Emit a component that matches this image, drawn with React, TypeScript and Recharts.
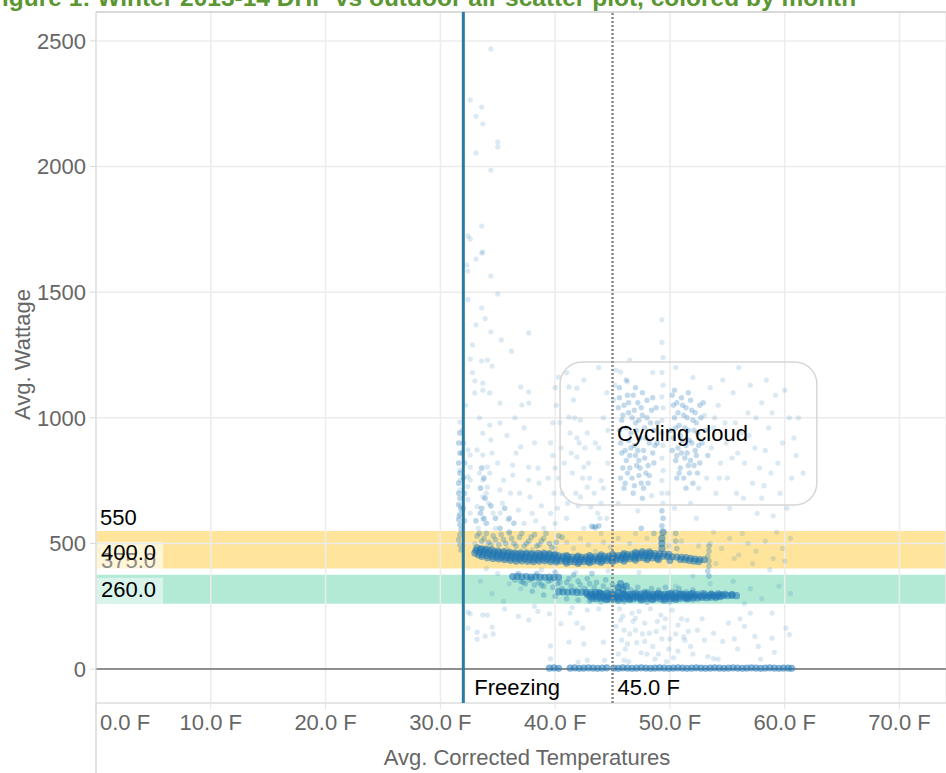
import {
  CartesianGrid,
  ReferenceArea,
  ReferenceLine,
  Scatter,
  ScatterChart,
  XAxis,
  YAxis,
} from "recharts"

// Outdoor temperature (F) vs DHP wattage, one reading per point: [temp, watts]

const TEMP_TICKS = [0, 10, 20, 30, 40, 50, 60, 70]
const WATT_TICKS = [0, 500, 1000, 1500, 2000, 2500]
const TEMP_DOMAIN = [0, 74.05]
const WATT_DOMAIN = [-135, 2615]

const FREEZING_F = 32
const MARK_F = 45

// reference bands
const UPPER_BAND = [400, 550]
const LOWER_BAND = [260, 375]

// annotated region around the cycling readings
const CLOUD_TEMP = [40.43, 62.8]
const CLOUD_WATT = [653, 1222]

const highReadings = [
  [34.4, 2468], [32.6, 2265], [33.6, 2237], [33.1, 2200], [33.7, 2170], [35.0, 2098],
  [35.0, 2078], [33.1, 2054], [34.4, 1986], [33.6, 1763], [32.4, 1724], [32.6, 1712],
  [33.7, 1660], [33.6, 1655], [33.1, 1632], [32.3, 1608], [32.4, 1584], [34.4, 1564],
  [35.0, 1493], [32.4, 1470], [33.6, 1437], [33.9, 1395], [33.1, 1370], [34.4, 1342],
  [37.7, 1338], [35.3, 1310], [32.8, 1290], [36.2, 1265], [32.6, 1234], [33.6, 1226],
  [34.1, 1230], [34.5, 1206],
]

const freezingColumn = [
  [31.7, 983], [31.9, 951], [32.4, 872], [32.6, 804], [31.7, 792], [31.7, 752],
  [31.7, 713], [31.7, 647], [31.6, 607], [32.4, 766], [32.6, 752], [33.0, 1099],
  [33.7, 1110], [33.7, 1138], [34.3, 1099], [35.2, 1059], [37.0, 1123], [37.7, 1103],
  [37.7, 1059], [37.1, 1051], [35.2, 979], [34.3, 971], [33.7, 939], [33.2, 872],
  [33.7, 852], [34.1, 804], [34.3, 780], [33.7, 752], [34.1, 724], [33.7, 685],
  [34.2, 660], [34.6, 621], [33.7, 597], [35.2, 713], [35.5, 752], [36.3, 812],
  [36.3, 772], [37.0, 884], [37.7, 804], [37.7, 752], [37.8, 685], [36.8, 633],
  [35.9, 593], [32.6, 852], [32.4, 727], [32.4, 674], [32.6, 621], [33.2, 647],
  [35.2, 621], [34.4, 912], [33.0, 1147], [32.8, 1180], [36.5, 1000], [35.8, 930],
  [36.9, 700], [33.3, 560], [34.8, 560], [36.0, 540], [37.3, 580], [38.0, 620],
  [33.4, 780], [34.0, 700], [34.5, 860], [35.0, 820], [35.4, 660], [36.1, 700],
  [36.6, 860], [37.3, 960], [38.2, 900], [38.6, 740], [32.2, 1050], [33.4, 1000],
]

const transitionSpread = [
  [40.3, 1162], [41.2, 1123], [41.9, 1118], [41.6, 1071], [41.2, 1003], [42.2, 991],
  [42.8, 940], [41.9, 920], [41.9, 844], [42.5, 804], [42.8, 724], [42.2, 685],
  [43.1, 645], [43.7, 621], [43.3, 565], [45.1, 1071], [45.7, 1182], [46.3, 1143],
  [39.6, 900], [39.8, 850], [40.0, 800], [40.3, 760], [40.5, 880], [41.3, 940],
  [41.5, 780], [41.8, 700], [42.0, 650], [42.6, 880], [43.0, 760], [43.4, 700],
  [44.0, 660], [39.9, 700], [40.2, 640], [40.0, 580], [39.6, 620], [40.1, 1050],
  [40.4, 980], [38.5, 800], [38.8, 650], [39.0, 560], [38.3, 590], [43.5, 560],
  [44.5, 600], [42.5, 560], [41.0, 600], [40.6, 700], [42.4, 760], [44.2, 720],
  [41.4, 860], [42.1, 900], [40.8, 820], [41.7, 1000], [42.9, 820], [43.8, 880],
  [44.6, 950], [40.0, 1120], [41.1, 660], [43.9, 600], [39.4, 760], [39.8, 980],
]

const cycleCore = [
  [45.6, 1080], [46.0, 1050], [46.4, 1020], [46.8, 1090], [47.2, 1060], [47.6, 1010],
  [48.0, 1070], [48.4, 1030], [45.8, 990], [46.2, 960], [46.6, 940], [47.0, 980],
  [47.4, 920], [47.8, 960], [48.2, 900], [48.6, 950], [45.7, 900], [46.1, 870],
  [46.5, 850], [46.9, 890], [47.3, 830], [47.7, 870], [48.1, 810], [48.5, 860],
  [45.9, 800], [46.3, 780], [46.7, 760], [47.1, 810], [47.5, 740], [47.9, 780],
  [46.0, 720], [46.8, 700], [47.6, 680], [45.6, 950], [46.4, 910], [47.2, 870],
  [48.0, 1000], [47.0, 1120], [46.2, 1150], [48.8, 1040], [50.2, 1090], [50.6, 1060],
  [51.0, 1080], [51.4, 1040], [51.8, 1070], [52.2, 1020], [50.4, 1000], [50.8, 970],
  [51.2, 1010], [51.6, 950], [52.0, 990], [52.4, 940], [50.3, 920], [50.7, 880],
  [51.1, 910], [51.5, 860], [51.9, 900], [52.3, 850], [50.5, 830], [50.9, 800],
  [51.3, 840], [51.7, 780], [52.1, 810], [50.6, 760], [51.4, 720], [52.6, 1050],
  [52.8, 900], [50.1, 950],
  [45.5, 1040], [45.9, 1010], [46.3, 1090], [46.7, 1000], [47.1, 950], [47.5, 1040],
  [47.9, 920], [48.3, 980], [48.7, 890], [45.8, 860], [46.2, 830], [46.6, 880],
  [47.0, 850], [47.4, 800], [47.8, 840], [48.2, 770], [48.6, 820], [45.7, 760],
  [46.1, 740], [46.5, 800], [46.9, 730], [47.3, 770], [47.7, 720], [48.1, 740],
  [46.4, 1060], [47.6, 1100], [48.5, 1080], [45.6, 1120], [46.9, 1030], [47.3, 990],
  [48.9, 980], [48.9, 900], [50.3, 1050], [50.7, 1020], [51.1, 1050], [51.5, 1000],
  [51.9, 1030], [52.3, 980], [52.7, 1000], [50.5, 960], [50.9, 930], [51.3, 960],
  [51.7, 910], [52.1, 950], [52.5, 890], [50.2, 870], [50.6, 850], [51.0, 860],
  [51.4, 890], [51.8, 830], [52.2, 870], [52.6, 820], [50.8, 780], [51.2, 760],
  [51.6, 810], [52.0, 740], [52.4, 780], [50.4, 1110], [51.6, 1100], [52.9, 1060],
  [53.1, 950], [53.3, 850],
]

const cycleSpread = [
  [41.0, 1180], [42.5, 1150], [43.8, 1200], [44.5, 1100], [44.2, 1000], [43.5, 900],
  [44.6, 820], [44.0, 750], [45.3, 1190], [46.5, 1230], [48.5, 1180], [50.5, 1200],
  [52.0, 1160], [53.5, 1120], [54.2, 1050], [54.8, 980], [55.5, 1100], [56.2, 940],
  [56.8, 1020], [57.4, 880], [58.0, 1060], [58.6, 960], [59.2, 1090], [59.8, 900],
  [60.4, 1000], [61.0, 850], [53.6, 880], [54.4, 820], [55.0, 760], [55.8, 700],
  [56.5, 820], [57.2, 740], [58.0, 680], [58.8, 780], [59.6, 700], [60.2, 640],
  [53.2, 760], [54.0, 700], [55.2, 640], [57.6, 620], [59.0, 610], [53.8, 960],
  [55.9, 860], [57.0, 1130], [58.3, 870], [60.8, 920], [61.6, 780], [49.8, 700],
  [50.4, 640], [51.8, 660], [52.5, 720], [48.4, 690], [47.2, 630], [45.5, 660],
  [52.3, 600], [53.0, 1010], [49.3, 1390], [49.3, 1300], [49.4, 1240], [49.3, 1180],
  [49.4, 1130], [49.3, 1083], [49.4, 1040], [49.3, 990], [49.3, 940], [49.4, 890],
  [49.3, 840], [49.4, 790], [49.3, 750], [49.3, 700], [49.4, 660], [45.2, 1130],
  [54.6, 1150], [56.0, 1200], [58.4, 1150], [60.0, 1110], [54.9, 900], [55.4, 840],
  [56.9, 930], [57.8, 800], [59.4, 820], [60.6, 760], [53.9, 1000], [55.7, 980],
  [57.5, 1000], [58.9, 1020], [61.2, 1000], [54.3, 760], [56.4, 680], [58.2, 730],
]

const upperSpread = [
  [33.0, 500], [34.0, 485], [35.8, 480], [37.0, 470], [38.0, 475], [40.0, 480],
  [41.0, 505], [41.6, 480], [42.2, 520], [42.9, 495], [43.5, 470], [44.2, 505],
  [44.8, 485], [53.5, 500], [54.5, 480], [55.2, 520], [56.0, 455], [56.8, 500],
  [57.5, 470], [58.3, 510], [59.0, 440], [59.8, 480], [60.5, 520], [54.0, 420],
  [55.6, 440], [57.2, 420], [58.7, 395], [60.0, 430], [53.8, 545], [56.3, 540],
  [59.3, 545], [34.0, 400], [35.0, 380], [36.0, 340], [37.0, 320], [34.5, 300],
  [35.5, 270], [33.5, 350], [53.5, 340], [54.5, 300], [55.5, 350], [57.0, 320],
  [58.0, 280], [59.5, 330], [60.5, 300], [56.5, 260], [52.0, 370], [50.5, 330],
  [46.5, 500], [48.0, 520], [51.0, 510], [52.5, 490], [45.5, 520], [47.0, 540],
  [49.9, 490], [44.0, 540], [38.8, 395], [41.8, 385], [44.6, 390], [47.3, 385],
  [35.6, 240], [36.8, 210], [38.2, 250], [39.5, 220], [41.5, 245], [43.8, 240],
]

const lowSpread = [
  [32.4, 227], [32.6, 220], [33.7, 215], [34.1, 215], [37.7, 195], [34.5, 167],
  [32.4, 163], [33.2, 147], [33.9, 131], [34.6, 140], [33.2, 119], [39.6, 92],
  [39.6, 41], [41.2, 107], [41.3, 223], [41.9, 183], [42.4, 163], [42.8, 235],
  [42.5, 100], [42.0, 28], [42.8, 35], [44.2, 107], [44.3, 35], [45.7, 195],
  [46.0, 155], [45.8, 115], [46.1, 80], [46.0, 35], [46.7, 223], [47.0, 203],
  [47.0, 155], [47.1, 105], [47.5, 65], [47.8, 183], [48.2, 143], [48.5, 90],
  [48.7, 40], [49.2, 215], [49.5, 165], [49.3, 120], [49.9, 80], [50.2, 235],
  [50.7, 175], [50.7, 72], [51.2, 128], [51.3, 115], [51.5, 195], [51.8, 90],
  [52.4, 155], [53.0, 115], [53.8, 143], [53.3, 50], [54.2, 40], [55.1, 183],
  [55.6, 120], [55.9, 80], [56.5, 170], [57.0, 223], [57.4, 130], [57.9, 40],
  [58.9, 223], [58.9, 123], [59.1, 67], [60.1, 163], [60.4, 137], [53.8, 42],
  [46.5, 140], [47.8, 110], [48.9, 190], [50.5, 140], [49.0, 60], [46.8, 190],
  [45.3, 170], [47.3, 230], [48.3, 240], [50.0, 120], [51.0, 200], [52.0, 60],
  [45.5, 60], [46.4, 30], [49.7, 30], [38.5, 230], [40.5, 180], [45.9, 210],
  [46.3, 100], [47.6, 140], [48.0, 60], [49.6, 200], [50.3, 45], [51.6, 150],
  [52.8, 200], [54.6, 110], [56.1, 200], [57.7, 90], [45.6, 240], [48.8, 150],
]

// moderately dense readings around the heating bands
const bandHaze = [
  [33.4, 540], [33.8, 520], [34.2, 505], [34.6, 530], [35.1, 495], [35.5, 515],
  [36.0, 545], [36.4, 500], [36.9, 525], [37.3, 490], [37.7, 510], [38.2, 535],
  [38.6, 495], [39.0, 520], [39.5, 500], [40.3, 530],
  [33.2, 530], [33.6, 510], [34.0, 540], [34.4, 495], [34.8, 515], [35.3, 535],
  [35.7, 500], [36.2, 520], [36.6, 490], [37.1, 540], [37.5, 500], [37.9, 525],
  [38.4, 490], [38.8, 510], [39.2, 540], [39.7, 485], [40.1, 505], [40.6, 525],
  [33.1, 590], [33.5, 620], [34.0, 580], [34.4, 650], [34.8, 600], [35.2, 560],
  [35.6, 640], [36.0, 600], [36.4, 580], [32.0, 760], [32.1, 820], [32.0, 900],
  [31.9, 860], [32.1, 700], [32.0, 640], [32.1, 590], [31.6, 740], [31.7, 780],
  [31.6, 820], [31.7, 860], [31.6, 900], [31.7, 940],
  [37.0, 350], [37.4, 340], [37.8, 355], [38.2, 335], [38.6, 345], [39.0, 330],
  [39.4, 350], [39.8, 325], [40.2, 340], [40.6, 320], [41.0, 345], [41.4, 330],
  [41.8, 315], [42.2, 335], [42.6, 320], [43.0, 340], [43.4, 325], [43.8, 310],
  [44.2, 330], [44.6, 315], [45.0, 335], [45.4, 320], [46.0, 330], [46.6, 315],
  [47.2, 325], [47.8, 310], [48.4, 320], [49.0, 315], [49.6, 325], [50.2, 310],
  [50.8, 320], [51.4, 308], [52.0, 315], [52.8, 305], [53.6, 302], [54.4, 300],
  [36.5, 355], [37.2, 345], [38.0, 360], [38.8, 335], [39.6, 355], [40.4, 345],
  [41.2, 360], [42.0, 350], [42.8, 360], [43.6, 345], [44.4, 355], [36.8, 380],
  [38.4, 380], [40.0, 385], [41.6, 375], [43.2, 380],
  [38.0, 310], [39.0, 295], [40.0, 290], [41.0, 280], [42.0, 275], [43.0, 270],
  [44.0, 268], [46.0, 268], [48.0, 266], [50.0, 268], [52.0, 275], [54.0, 280],
  [31.6, 700], [31.7, 680], [31.6, 655], [31.8, 635], [31.7, 615], [31.6, 595],
  [31.7, 575], [31.8, 555], [31.7, 535], [31.6, 515], [31.7, 495], [31.8, 475],
  [33.6, 800], [33.8, 760], [33.5, 720], [33.9, 680], [33.6, 640], [33.8, 600],
  [49.3, 630], [49.4, 600], [49.3, 570], [50.5, 540], [50.5, 510], [50.6, 480],
  [53.4, 490], [53.4, 470], [53.3, 450], [53.4, 430], [53.4, 410], [53.3, 390],
  [53.4, 370], [47.5, 560], [48.6, 540], [43.2, 568], [43.5, 566], [43.8, 570],
]

// dense heating readings, upper band
const upperBand = [
  [33.0, 462], [33.4, 466], [33.8, 464], [34.2, 460], [34.6, 457], [35.0, 455],
  [35.4, 453], [35.8, 451], [36.2, 450], [36.6, 448], [37.0, 447], [37.4, 448],
  [37.8, 446], [38.2, 445], [38.6, 446], [39.0, 447], [39.4, 446], [39.8, 444],
  [40.2, 442], [40.6, 440], [41.0, 438], [41.4, 437], [41.8, 436], [42.2, 436],
  [42.6, 437], [43.0, 437], [43.4, 438], [43.8, 439], [44.2, 440], [44.6, 441],
  [45.0, 442], [45.4, 443], [45.8, 445], [46.2, 447], [46.6, 448], [47.0, 450],
  [47.4, 451], [47.8, 452], [48.2, 452], [48.6, 451], [49.0, 450], [49.4, 449],
  [49.8, 448], [50.2, 447], [50.6, 446], [51.0, 445], [51.4, 444], [51.8, 441],
  [52.2, 438], [52.6, 436], [53.0, 435],
  [33.1, 473], [33.5, 476], [33.9, 472], [34.3, 470], [34.7, 466], [35.1, 464],
  [35.5, 462], [35.9, 460], [36.3, 459], [36.7, 457], [37.1, 456], [37.5, 457],
  [37.9, 455], [38.3, 454], [38.7, 455], [39.1, 456], [39.5, 455], [39.9, 453],
  [40.3, 451], [40.7, 449], [41.1, 447], [41.5, 446], [41.9, 445], [42.3, 445],
  [42.7, 446], [43.1, 446], [43.5, 447], [43.9, 448], [44.3, 449], [44.7, 450],
  [45.1, 451], [45.5, 452], [45.9, 454], [46.3, 456], [46.7, 457], [47.1, 459],
  [47.5, 460], [47.9, 461], [48.3, 461], [48.7, 460], [49.1, 459], [49.5, 458],
  [49.9, 457],
  [33.3, 455], [33.7, 456], [34.1, 452], [34.5, 449], [34.9, 446], [35.3, 444],
  [35.7, 442], [36.1, 441], [36.5, 439], [36.9, 438], [37.3, 439], [37.7, 437],
  [38.1, 436], [38.5, 437], [38.9, 438], [39.3, 437], [39.7, 435], [40.1, 433],
  [40.5, 431], [40.9, 429], [41.3, 428], [41.7, 427], [42.1, 427], [42.5, 428],
  [42.9, 428], [43.3, 429], [43.7, 430], [44.1, 431], [44.5, 432], [44.9, 433],
  [45.3, 434], [45.7, 436], [46.1, 438], [46.5, 439], [46.9, 441], [47.3, 442],
  [47.7, 443], [48.1, 443], [48.5, 442], [48.9, 441], [50.9, 436], [51.3, 435],
  [51.7, 432], [52.1, 430], [52.5, 428],
  [33.2, 482], [33.6, 478], [34.0, 476], [34.5, 474], [35.0, 470], [35.5, 468],
  [36.0, 466], [36.5, 463], [37.0, 462], [37.5, 463], [38.0, 460], [38.5, 461],
  [39.0, 462], [39.5, 460], [40.0, 456], [41.0, 452], [42.0, 450], [43.0, 452],
  [44.0, 455], [45.0, 457], [46.0, 460], [47.0, 465], [47.6, 468], [48.2, 467],
  [33.6, 448], [34.1, 443], [34.6, 440], [35.1, 438], [35.6, 435], [36.1, 433],
  [36.6, 430], [37.1, 431], [37.6, 429], [38.1, 428], [38.6, 430], [39.1, 431],
  [39.6, 428], [40.1, 426], [41.0, 422], [42.0, 421], [43.0, 423], [44.0, 425],
  [45.0, 428], [46.0, 430], [47.0, 434], [48.0, 436], [49.0, 435], [50.0, 433],
  [49.3, 480], [49.3, 500], [49.3, 520], [49.4, 545],
]

// dense heating readings, lower band
const lowerBand = [
  [36.3, 368], [36.7, 369], [37.1, 367], [37.5, 368], [37.9, 366], [38.3, 367],
  [38.7, 366], [39.1, 365], [39.5, 366], [39.9, 364], [40.3, 365],
  [40.3, 308], [40.7, 307], [41.1, 306], [41.5, 307], [41.9, 305], [42.3, 306],
  [42.7, 305], [43.1, 304], [43.5, 305], [43.9, 303],
  [43.0, 290], [43.4, 288], [43.8, 287], [44.2, 286], [44.6, 289], [45.0, 287],
  [45.4, 288], [45.8, 286], [46.2, 289], [46.6, 287], [47.0, 288], [47.4, 286],
  [47.8, 289], [48.2, 287], [48.6, 290], [49.0, 288], [49.4, 287], [49.8, 289],
  [50.2, 286], [50.6, 288], [51.0, 290], [51.4, 287], [51.8, 289], [52.2, 291],
  [52.6, 290], [53.0, 292], [53.4, 291], [53.8, 293], [54.2, 292], [54.6, 293],
  [55.0, 292], [55.4, 293], [55.8, 292],
  [44.0, 300], [44.5, 302], [45.0, 298], [45.5, 303], [46.0, 300], [46.5, 297],
  [47.0, 302], [47.5, 299], [48.0, 303], [48.5, 298], [49.0, 301], [49.5, 297],
  [50.0, 300], [50.5, 302], [51.0, 299], [51.5, 296], [52.0, 300],
  [44.5, 276], [45.5, 274], [46.5, 277], [47.5, 275], [48.5, 276], [49.5, 274],
  [50.5, 277], [51.5, 279], [45.5, 325], [45.9, 315], [46.2, 330], [45.7, 340],
  [43.2, 281], [43.6, 280], [44.0, 282], [44.4, 279], [44.8, 281], [45.2, 280],
  [45.6, 282], [46.0, 279], [46.4, 281], [46.8, 280], [47.2, 282], [47.6, 279],
  [48.0, 281], [48.4, 280], [48.8, 282], [49.2, 279], [49.6, 281], [50.0, 280],
  [50.4, 282], [50.8, 281], [51.2, 283], [51.6, 282], [52.0, 284], [52.4, 283],
  [52.8, 285], [53.2, 284], [53.6, 286], [54.0, 287], [54.4, 288],
  [42.8, 297], [43.2, 296], [43.6, 298], [44.2, 295], [44.8, 297], [45.2, 296],
  [45.8, 298], [46.2, 295], [46.8, 297], [47.2, 296], [47.8, 298], [48.2, 295],
  [48.8, 297], [49.2, 296], [49.8, 298], [50.2, 295], [50.8, 297], [51.2, 296],
  [51.8, 298], [52.4, 297], [53.0, 299], [53.6, 298], [54.2, 299], [54.8, 298],
  [55.4, 297],
]

// compressor idle, close to zero watts
const idleRow = [
  [39.5, 4], [39.9, 5], [40.3, 3], [41.3, 4], [41.7, 5], [42.1, 3], [42.5, 4],
  [42.9, 5], [43.3, 4], [43.7, 3], [44.1, 4], [44.5, 5], [45.1, 4], [45.5, 3],
  [45.9, 5], [46.3, 4], [46.7, 3], [47.1, 4], [47.5, 5], [47.9, 4], [48.3, 3],
  [48.7, 4], [49.1, 5], [49.5, 4], [49.9, 3], [50.3, 4], [50.7, 5], [51.1, 4],
  [51.5, 3], [51.9, 4], [52.3, 5], [52.7, 4], [53.1, 3], [53.5, 4], [53.9, 5],
  [54.3, 4], [54.7, 3], [55.1, 4], [55.5, 5], [55.9, 4], [56.3, 3], [56.7, 4],
  [57.1, 5], [57.5, 4], [57.9, 3], [58.3, 4], [58.7, 5], [59.1, 4], [59.5, 3],
  [59.9, 4], [60.3, 4], [60.6, 3],
]

const BLUE = "#1f77b4"
const AXIS_GRAY = "#666666"
const FONT = "Arial, 'Liberation Sans', sans-serif"

const toPoints = (rows: number[][]) => rows.map(([t, w]) => ({ t, w }))

const sparsePoints = toPoints([
  ...highReadings,
  ...freezingColumn,
  ...transitionSpread,
  ...cycleSpread,
  ...upperSpread,
  ...lowSpread,
])
const cloudPoints = toPoints(cycleCore)
const hazePoints = toPoints(bandHaze)
const densePoints = toPoints([...upperBand, ...lowerBand, ...idleRow])

const dot = (opacity: number, r: number) => (p: any) => (
  <circle cx={p.cx} cy={p.cy} r={r} fill={BLUE} fillOpacity={opacity} />
)

function TempTick({ x, y, payload }: any) {
  const first = payload.value === 0
  return (
    <text
      x={first ? x + 4 : x}
      y={y + 19}
      textAnchor={first ? "start" : "middle"}
      fill={AXIS_GRAY}
      fontSize={22}
      fontFamily={FONT}
    >
      {payload.value.toFixed(1)} F
    </text>
  )
}

function WattTick({ x, y, payload }: any) {
  return (
    <text x={x - 2} y={y} dy="0.35em" textAnchor="end" fill={AXIS_GRAY} fontSize={22} fontFamily={FONT}>
      {payload.value}
    </text>
  )
}

function TempTitle({ viewBox }: any) {
  const { x = 96, y = 703, width = 850, height = 70 } = viewBox ?? {}
  return (
    <g>
      {/* left axis rule runs down through the axis area */}
      <line x1={x} x2={x} y1={y} y2={y + height} stroke="#d9d9d9" strokeWidth={1.5} />
      <text
        x={x + width / 2 + 6}
        y={y + 62}
        textAnchor="middle"
        fill={AXIS_GRAY}
        fontSize={22}
        fontFamily={FONT}
      >
        Avg. Corrected Temperatures
      </text>
    </g>
  )
}

function WattTitle({ viewBox }: any) {
  const { x = 0, y = 12, height = 691 } = viewBox ?? {}
  const cx = x + 22
  const cy = y + height / 2 - 3
  return (
    <text
      x={cx}
      y={cy}
      dy="0.35em"
      transform={`rotate(-90 ${cx} ${cy})`}
      textAnchor="middle"
      fill={AXIS_GRAY}
      fontSize={22}
      fontFamily={FONT}
    >
      Avg. Wattage
    </text>
  )
}

function UpperBandLabel({ viewBox }: any) {
  const { x, y, height } = viewBox
  const bottom = y + height
  return (
    <g fontFamily={FONT} fontSize={22}>
      <text x={x + 4} y={y - 6} fill="#000">
        550
      </text>
      <rect x={x} y={y + 11} width={67} height={height - 10} fill="#ffffff" fillOpacity={0.6} />
      <text x={x + 5} y={bottom - 1} fill="#8a8a8a">
        375.0
      </text>
      <text x={x + 5} y={bottom - 9} fill="#000">
        400.0
      </text>
    </g>
  )
}

function LowerBandLabel({ viewBox }: any) {
  const { x, y, height } = viewBox
  const bottom = y + height
  return (
    <g fontFamily={FONT} fontSize={22}>
      <rect x={x} y={y + 3} width={67} height={height - 3} fill="#ffffff" fillOpacity={0.5} />
      <text x={x + 5} y={bottom - 7} fill="#000">
        260.0
      </text>
    </g>
  )
}

function CloudBox(p: any) {
  return (
    <rect
      x={p.x}
      y={p.y}
      width={p.width}
      height={p.height}
      rx={22}
      ry={22}
      fill="none"
      stroke="#d6d6d6"
      strokeWidth={1.5}
    />
  )
}

function CloudLabel({ viewBox }: any) {
  const { x, y, height } = viewBox
  return (
    <text x={x + 57} y={y + height / 2} dy="0.35em" fill="#000" fontSize={22} fontFamily={FONT}>
      Cycling cloud
    </text>
  )
}

function LineLabel({ viewBox, text, dx }: any) {
  const { x, y, height } = viewBox
  return (
    <text x={x + dx} y={y + height - 8} fill="#000" fontSize={22} fontFamily={FONT}>
      {text}
    </text>
  )
}

export default function App() {
  return (
    <div
      style={{
        position: "fixed",
        left: 0,
        top: 0,
        width: 946,
        height: 773,
        overflow: "hidden",
        background: "#fff",
      }}
    >
      <svg width={946} height={20} style={{ position: "absolute", left: 0, top: 0 }}>
        <text x={-13} y={6} fill="#5b9632" fontSize={24.5} fontWeight="bold" fontFamily={FONT}>
          Figure 1: Winter 2013-14 DHP vs outdoor air scatter plot, colored by month
        </text>
      </svg>
      <ScatterChart width={946} height={773} margin={{ top: 12, right: 0, bottom: 0, left: 0 }}>
        <ReferenceArea
          y1={UPPER_BAND[0]}
          y2={UPPER_BAND[1]}
          fill="#fee59b"
          fillOpacity={1}
          stroke="none"
          ifOverflow="hidden"
          label={{ content: (p: any) => <UpperBandLabel {...p} /> }}
        />
        <ReferenceArea
          y1={LOWER_BAND[0]}
          y2={LOWER_BAND[1]}
          fill="#b3ead6"
          fillOpacity={1}
          stroke="none"
          ifOverflow="hidden"
          label={{ content: (p: any) => <LowerBandLabel {...p} /> }}
        />
        <CartesianGrid stroke="#ececec" strokeWidth={1.5} zIndex={150} />
        <XAxis
          type="number"
          dataKey="t"
          domain={TEMP_DOMAIN}
          ticks={TEMP_TICKS}
          allowDataOverflow
          height={70}
          stroke="#d9d9d9"
          tickLine={{ stroke: "#e3e3e3" }}
          tickSize={6}
          tick={<TempTick />}
          label={{ content: (p: any) => <TempTitle {...p} /> }}
        />
        <YAxis
          type="number"
          dataKey="w"
          domain={WATT_DOMAIN}
          ticks={WATT_TICKS}
          allowDataOverflow
          width={96}
          stroke="#d9d9d9"
          tickLine={{ stroke: "#d9d9d9" }}
          tickSize={6}
          tick={<WattTick />}
          label={{ content: (p: any) => <WattTitle {...p} /> }}
        />
        <ReferenceLine y={WATT_DOMAIN[1]} stroke="#d9d9d9" strokeWidth={2} />
        <ReferenceLine y={0} stroke="#6e6e6e" strokeWidth={1.5} />
        <Scatter data={sparsePoints} shape={dot(0.16, 2.6)} isAnimationActive={false} />
        <Scatter data={cloudPoints} shape={dot(0.27, 2.7)} isAnimationActive={false} />
        <Scatter data={hazePoints} shape={dot(0.3, 2.8)} isAnimationActive={false} />
        <Scatter data={densePoints} shape={dot(0.55, 3.6)} isAnimationActive={false} />
        <ReferenceArea
          x1={CLOUD_TEMP[0]}
          x2={CLOUD_TEMP[1]}
          y1={CLOUD_WATT[0]}
          y2={CLOUD_WATT[1]}
          shape={(p: any) => <CloudBox {...p} />}
          label={{ content: (p: any) => <CloudLabel {...p} /> }}
          zIndex={800}
        />
        <ReferenceLine
          x={MARK_F}
          stroke="#8a8a8a"
          strokeWidth={2.5}
          strokeDasharray="2 2"
          zIndex={800}
          label={{ content: (p: any) => <LineLabel {...p} text="45.0 F" dx={5} /> }}
        />
        <ReferenceLine
          x={FREEZING_F}
          stroke="#2b7a9f"
          strokeWidth={3}
          zIndex={800}
          label={{ content: (p: any) => <LineLabel {...p} text="Freezing" dx={11} /> }}
        />
      </ScatterChart>
    </div>
  )
}
